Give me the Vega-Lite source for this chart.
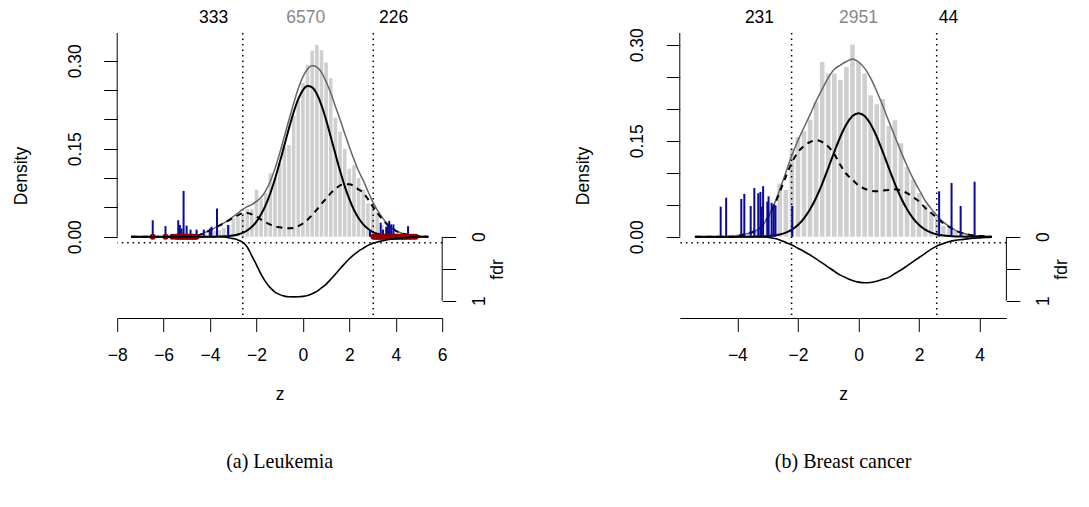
{
  "$schema": "https://vega.github.io/schema/vega-lite/v6.json",
  "padding": {"left": 11.2, "top": 9, "right": 0, "bottom": 0},
  "background": "white",
  "config": {
    "view": {"stroke": null},
    "font": "Liberation Sans",
    "axis": {"grid": false, "domainColor": "black", "tickColor": "black", "labelColor": "black", "titleColor": "black", "labelFontSize": 17.5, "titleFontSize": 17.5, "titleFontWeight": "normal", "tickSize": 13.5, "tickWidth": 1, "domainWidth": 1, "labelFont": "Liberation Sans", "titleFont": "Liberation Sans", "labelFlush": false, "labelOverlap": false}
  },
  "datasets": {
    "curvesL": [
      {"z":-7.4,"f0":0,"f1":0,"f":0,"fdr":0},{"z":-6.0,"f0":0,"f1":0,"f":0,"fdr":0},{"z":-5.0,"f0":0,"f1":0,"f":0,"fdr":0},{"z":-4.8,"f0":0,"f1":0,"f":0,"fdr":0},
      {"z":-4.6,"f0":0,"f1":0.0015,"f":0.0015,"fdr":0},{"z":-4.4,"f0":0,"f1":0.004,"f":0.004,"fdr":0},{"z":-4.2,"f0":0,"f1":0.0075,"f":0.0075,"fdr":0},{"z":-4.0,"f0":0,"f1":0.0107,"f":0.0107,"fdr":0},
      {"z":-3.8,"f0":0.0001,"f1":0.015,"f":0.0151,"fdr":0},{"z":-3.6,"f0":0.0003,"f1":0.019,"f":0.0193,"fdr":0},{"z":-3.4,"f0":0.0006,"f1":0.023,"f":0.0236,"fdr":0.005},{"z":-3.2,"f0":0.0011,"f1":0.0277,"f":0.0288,"fdr":0.015},
      {"z":-3.0,"f0":0.0021,"f1":0.0323,"f":0.0344,"fdr":0.03},{"z":-2.8,"f0":0.0037,"f1":0.0365,"f":0.0402,"fdr":0.05},{"z":-2.6,"f0":0.0064,"f1":0.04,"f":0.0464,"fdr":0.085},{"z":-2.4,"f0":0.0106,"f1":0.0405,"f":0.0511,"fdr":0.16},
      {"z":-2.2,"f0":0.0168,"f1":0.038,"f":0.0548,"fdr":0.3},{"z":-2.0,"f0":0.0258,"f1":0.0345,"f":0.0603,"fdr":0.44},{"z":-1.8,"f0":0.0381,"f1":0.029,"f":0.0671,"fdr":0.59},{"z":-1.6,"f0":0.0542,"f1":0.0245,"f":0.0787,"fdr":0.71},
      {"z":-1.4,"f0":0.0745,"f1":0.0205,"f":0.095,"fdr":0.8},{"z":-1.2,"f0":0.0988,"f1":0.0175,"f":0.1163,"fdr":0.865},{"z":-1.0,"f0":0.1263,"f1":0.016,"f":0.1423,"fdr":0.905},{"z":-0.8,"f0":0.1557,"f1":0.015,"f":0.1707,"fdr":0.928},
      {"z":-0.6,"f0":0.185,"f1":0.0143,"f":0.1993,"fdr":0.938},{"z":-0.4,"f0":0.2121,"f1":0.0148,"f":0.2269,"fdr":0.94},{"z":-0.2,"f0":0.2344,"f1":0.018,"f":0.2524,"fdr":0.938},{"z":0.0,"f0":0.2498,"f1":0.0225,"f":0.2723,"fdr":0.932},
      {"z":0.2,"f0":0.2567,"f1":0.029,"f":0.2857,"fdr":0.918},{"z":0.4,"f0":0.2544,"f1":0.037,"f":0.2914,"fdr":0.892},{"z":0.6,"f0":0.2431,"f1":0.046,"f":0.2891,"fdr":0.855},{"z":0.8,"f0":0.224,"f1":0.056,"f":0.28,"fdr":0.8},
      {"z":1.0,"f0":0.199,"f1":0.065,"f":0.264,"fdr":0.74},{"z":1.2,"f0":0.1705,"f1":0.0743,"f":0.2448,"fdr":0.665},{"z":1.4,"f0":0.1409,"f1":0.081,"f":0.2219,"fdr":0.585},{"z":1.6,"f0":0.1123,"f1":0.0873,"f":0.1996,"fdr":0.5},
      {"z":1.8,"f0":0.0862,"f1":0.0895,"f":0.1757,"fdr":0.42},{"z":2.0,"f0":0.0639,"f1":0.0893,"f":0.1532,"fdr":0.345},{"z":2.2,"f0":0.0456,"f1":0.086,"f":0.1316,"fdr":0.28},{"z":2.4,"f0":0.0314,"f1":0.0805,"f":0.1119,"fdr":0.225},
      {"z":2.6,"f0":0.0209,"f1":0.075,"f":0.0959,"fdr":0.18},{"z":2.8,"f0":0.0134,"f1":0.064,"f":0.0774,"fdr":0.135},{"z":3.0,"f0":0.0083,"f1":0.052,"f":0.0603,"fdr":0.105},{"z":3.2,"f0":0.0049,"f1":0.041,"f":0.0459,"fdr":0.082},
      {"z":3.4,"f0":0.0028,"f1":0.031,"f":0.0338,"fdr":0.066},{"z":3.6,"f0":0.0016,"f1":0.022,"f":0.0236,"fdr":0.052},{"z":3.8,"f0":0.0008,"f1":0.015,"f":0.0158,"fdr":0.04},{"z":4.0,"f0":0.0004,"f1":0.01,"f":0.0104,"fdr":0.03},
      {"z":4.2,"f0":0.0002,"f1":0.0065,"f":0.0067,"fdr":0.022},{"z":4.4,"f0":0.0001,"f1":0.004,"f":0.0041,"fdr":0.015},{"z":4.6,"f0":0,"f1":0.0027,"f":0.0027,"fdr":0.01},{"z":4.8,"f0":0,"f1":0.0016,"f":0.0016,"fdr":0.006},
      {"z":5.0,"f0":0,"f1":0.0008,"f":0.0008,"fdr":0.003},{"z":5.2,"f0":0,"f1":0.0003,"f":0.0003,"fdr":0.001},{"z":5.4,"f0":0,"f1":0,"f":0,"fdr":0}
    ],
    "barsL": [
      {"z":-4.4,"h":0.003},{"z":-4.2,"h":0.005},{"z":-4.0,"h":0.008},{"z":-3.8,"h":0.01},{"z":-3.6,"h":0.011},{"z":-3.4,"h":0.015},{"z":-3.2,"h":0.02},{"z":-3.0,"h":0.031},{"z":-2.8,"h":0.033},{"z":-2.6,"h":0.04},{"z":-2.4,"h":0.047},{"z":-2.2,"h":0.047},{"z":-2.0,"h":0.08},{"z":-1.8,"h":0.065},{"z":-1.6,"h":0.075},{"z":-1.4,"h":0.108},{"z":-1.2,"h":0.1},{"z":-1.0,"h":0.125},{"z":-0.8,"h":0.153},{"z":-0.6,"h":0.156},{"z":-0.4,"h":0.206},{"z":-0.2,"h":0.232},{"z":0.0,"h":0.262},{"z":0.2,"h":0.293},{"z":0.4,"h":0.317},{"z":0.6,"h":0.327},{"z":0.8,"h":0.318},{"z":1.0,"h":0.297},{"z":1.2,"h":0.27},{"z":1.4,"h":0.203},{"z":1.6,"h":0.179},{"z":1.8,"h":0.15},{"z":2.0,"h":0.116},{"z":2.2,"h":0.122},{"z":2.4,"h":0.1},{"z":2.6,"h":0.08},{"z":2.8,"h":0.057},{"z":3.0,"h":0.05},{"z":3.2,"h":0.042},{"z":3.4,"h":0.02},{"z":3.6,"h":0.013},{"z":3.8,"h":0.009},{"z":4.0,"h":0.006},{"z":4.2,"h":0.004},{"z":4.4,"h":0.003},{"z":4.6,"h":0.002},{"z":4.8,"h":0.001}
    ],
    "spikesL": [
      {"z":-6.47,"h":0.028},{"z":-5.92,"h":0.018},{"z":-5.37,"h":0.028},{"z":-5.3,"h":0.02},{"z":-5.23,"h":0.014},{"z":-5.14,"h":0.078},{"z":-5.01,"h":0.019},{"z":-4.84,"h":0.012},{"z":-4.58,"h":0.012},{"z":-4.27,"h":0.012},{"z":-4.01,"h":0.014},{"z":-3.94,"h":0.017},{"z":-3.7,"h":0.048},{"z":-3.22,"h":0.02},
      {"z":2.89,"h":0.011},{"z":3.35,"h":0.024},{"z":3.45,"h":0.012},{"z":3.59,"h":0.017},{"z":3.66,"h":0.022},{"z":3.72,"h":0.027},{"z":3.8,"h":0.021},{"z":3.9,"h":0.021},{"z":4.53,"h":0.018}
    ],
    "pointsL": [
      {"z":-6.47},{"z":-5.92},{"z":-5.62},{"z":-5.48},{"z":-5.42},{"z":-5.36},{"z":-5.3},{"z":-5.24},{"z":-5.18},{"z":-5.12},{"z":-5.06},{"z":-5.0},{"z":-4.94},{"z":-4.88},{"z":-4.82},{"z":-4.76},{"z":-4.7},{"z":-4.64},{"z":-4.58},
      {"z":3.04},{"z":3.1},{"z":3.16},{"z":3.22},{"z":3.28},{"z":3.34},{"z":3.4},{"z":3.46},{"z":3.52},{"z":3.58},{"z":3.64},{"z":3.7},{"z":3.76},{"z":3.82},{"z":3.88},{"z":3.94},{"z":4.0},{"z":4.06},{"z":4.12},{"z":4.18},{"z":4.24},{"z":4.3},{"z":4.36},{"z":4.42},{"z":4.5},{"z":4.58},{"z":4.66},{"z":4.76},{"z":4.86}
    ],
    "countsL": [{"z":-3.85,"label":"333","kind":"tail"},{"z":0.12,"label":"6570","kind":"mid"},{"z":3.91,"label":"226","kind":"tail"}],
    "thrL": [{"z":-2.59},{"z":3.03}],
    "curvesR": [
      {"z":-5.4,"f0":0,"f1":0,"f":0,"fdr":0},{"z":-4.6,"f0":0,"f1":0,"f":0,"fdr":0},{"z":-4.4,"f0":0,"f1":0,"f":0,"fdr":0},{"z":-4.2,"f0":0,"f1":0,"f":0,"fdr":0},
      {"z":-4.0,"f0":0,"f1":0.001,"f":0.001,"fdr":0},{"z":-3.8,"f0":0,"f1":0.003,"f":0.003,"fdr":0},{"z":-3.6,"f0":0.0001,"f1":0.0055,"f":0.0056,"fdr":0},{"z":-3.4,"f0":0.0002,"f1":0.009,"f":0.0092,"fdr":0},
      {"z":-3.2,"f0":0.0005,"f1":0.015,"f":0.0155,"fdr":0.003},{"z":-3.0,"f0":0.001,"f1":0.029,"f":0.03,"fdr":0.008},{"z":-2.8,"f0":0.0019,"f1":0.047,"f":0.0489,"fdr":0.025},{"z":-2.6,"f0":0.0036,"f1":0.07,"f":0.0736,"fdr":0.05},
      {"z":-2.4,"f0":0.0065,"f1":0.094,"f":0.1005,"fdr":0.09},{"z":-2.2,"f0":0.0112,"f1":0.116,"f":0.1272,"fdr":0.13},{"z":-2.0,"f0":0.0184,"f1":0.132,"f":0.1504,"fdr":0.18},{"z":-1.8,"f0":0.0287,"f1":0.142,"f":0.1707,"fdr":0.23},
      {"z":-1.6,"f0":0.0428,"f1":0.148,"f":0.1908,"fdr":0.285},{"z":-1.4,"f0":0.0609,"f1":0.151,"f":0.2119,"fdr":0.345},{"z":-1.2,"f0":0.0827,"f1":0.148,"f":0.2307,"fdr":0.41},{"z":-1.0,"f0":0.1072,"f1":0.141,"f":0.2482,"fdr":0.475},
      {"z":-0.8,"f0":0.1325,"f1":0.129,"f":0.2615,"fdr":0.54},{"z":-0.6,"f0":0.1562,"f1":0.112,"f":0.2682,"fdr":0.6},{"z":-0.4,"f0":0.1757,"f1":0.098,"f":0.2737,"fdr":0.645},{"z":-0.2,"f0":0.1885,"f1":0.089,"f":0.2775,"fdr":0.685},
      {"z":0.0,"f0":0.193,"f1":0.08,"f":0.273,"fdr":0.71},{"z":0.2,"f0":0.1885,"f1":0.075,"f":0.2635,"fdr":0.72},{"z":0.4,"f0":0.1757,"f1":0.072,"f":0.2477,"fdr":0.715},{"z":0.6,"f0":0.1562,"f1":0.071,"f":0.2272,"fdr":0.695},
      {"z":0.8,"f0":0.1325,"f1":0.072,"f":0.2045,"fdr":0.665},{"z":1.0,"f0":0.1072,"f1":0.073,"f":0.1802,"fdr":0.635},{"z":1.2,"f0":0.0827,"f1":0.074,"f":0.1567,"fdr":0.575},{"z":1.4,"f0":0.0609,"f1":0.072,"f":0.1329,"fdr":0.52},
      {"z":1.6,"f0":0.0428,"f1":0.068,"f":0.1108,"fdr":0.455},{"z":1.8,"f0":0.0287,"f1":0.062,"f":0.0907,"fdr":0.39},{"z":2.0,"f0":0.0184,"f1":0.055,"f":0.0734,"fdr":0.325},{"z":2.2,"f0":0.0112,"f1":0.045,"f":0.0562,"fdr":0.26},
      {"z":2.4,"f0":0.0065,"f1":0.037,"f":0.0435,"fdr":0.195},{"z":2.6,"f0":0.0036,"f1":0.029,"f":0.0326,"fdr":0.14},{"z":2.8,"f0":0.0019,"f1":0.021,"f":0.0229,"fdr":0.105},{"z":3.0,"f0":0.001,"f1":0.015,"f":0.016,"fdr":0.075},
      {"z":3.2,"f0":0.0005,"f1":0.0095,"f":0.01,"fdr":0.057},{"z":3.4,"f0":0.0002,"f1":0.006,"f":0.0062,"fdr":0.045},{"z":3.6,"f0":0.0001,"f1":0.0035,"f":0.0036,"fdr":0.034},{"z":3.8,"f0":0,"f1":0.002,"f":0.002,"fdr":0.025},
      {"z":4.0,"f0":0,"f1":0.001,"f":0.001,"fdr":0.019},{"z":4.2,"f0":0,"f1":0.0005,"f":0.0005,"fdr":0.013},{"z":4.4,"f0":0,"f1":0,"f":0,"fdr":0.009}
    ],
    "barsR": [
      {"z":-4.4,"h":0.002},{"z":-4.2,"h":0.003},{"z":-4.0,"h":0.004},{"z":-3.8,"h":0.006},{"z":-3.6,"h":0.008},{"z":-3.4,"h":0.012},{"z":-3.2,"h":0.02},{"z":-3.0,"h":0.03},{"z":-2.8,"h":0.05},{"z":-2.6,"h":0.083},{"z":-2.4,"h":0.073},{"z":-2.2,"h":0.137},{"z":-2.0,"h":0.156},{"z":-1.8,"h":0.165},{"z":-1.6,"h":0.183},{"z":-1.4,"h":0.211},{"z":-1.2,"h":0.273},{"z":-1.0,"h":0.255},{"z":-0.8,"h":0.255},{"z":-0.6,"h":0.245},{"z":-0.4,"h":0.265},{"z":-0.2,"h":0.3},{"z":0.0,"h":0.273},{"z":0.2,"h":0.255},{"z":0.4,"h":0.221},{"z":0.6,"h":0.207},{"z":0.8,"h":0.215},{"z":1.0,"h":0.173},{"z":1.2,"h":0.182},{"z":1.4,"h":0.146},{"z":1.6,"h":0.109},{"z":1.8,"h":0.089},{"z":2.0,"h":0.068},{"z":2.2,"h":0.049},{"z":2.4,"h":0.039},{"z":2.6,"h":0.031},{"z":2.8,"h":0.017},{"z":3.0,"h":0.013},{"z":3.2,"h":0.01},{"z":3.4,"h":0.007},{"z":3.6,"h":0.004},{"z":3.8,"h":0.002}
    ],
    "spikesR": [
      {"z":-4.55,"h":0.047},{"z":-4.37,"h":0.061},{"z":-3.87,"h":0.059},{"z":-3.77,"h":0.067},{"z":-3.56,"h":0.048},{"z":-3.44,"h":0.076},{"z":-3.31,"h":0.068},{"z":-3.24,"h":0.07},{"z":-3.2,"h":0.047},{"z":-3.15,"h":0.079},{"z":-3.01,"h":0.055},{"z":-2.97,"h":0.063},{"z":-2.87,"h":0.053},{"z":-2.8,"h":0.051},{"z":-2.74,"h":0.049},{"z":-2.19,"h":0.048},
      {"z":2.66,"h":0.071},{"z":3.07,"h":0.084},{"z":3.37,"h":0.048},{"z":3.83,"h":0.086}
    ],
    "countsR": [{"z":-3.27,"label":"231","kind":"tail"},{"z":0,"label":"2951","kind":"mid"},{"z":2.97,"label":"44","kind":"tail"}],
    "thrR": [{"z":-2.21},{"z":2.58}]
  },
  "bounds": "flush",
  "spacing": 237.6,
  "hconcat": [
    {
      "width": 325,
      "height": 285,
      "title": {"text": "(a) Leukemia", "orient": "bottom", "anchor": "middle", "font": "Liberation Serif", "fontSize": 20, "fontWeight": "normal", "color": "black", "offset": 49},
      "layer": [
        {
          "layer": [
            {
              "data": {"name": "barsL"},
              "mark": {"type": "bar", "size": 3.6, "color": "#cfcfcf"},
              "encoding": {
                "x": {"field": "z", "type": "quantitative", "scale": {"domain": [-8, 6], "nice": false, "zero": false, "padding": 0}, "axis": {"values": [-8, -6, -4, -2, 0, 2, 4, 6], "format": "d", "title": "z", "labelPadding": 15, "titlePadding": 22}},
                "y": {"field": "h", "type": "quantitative", "scale": {"domain": [-0.1386, 0.3472], "nice": false, "zero": false}, "axis": {"orient": "left", "values": [0, 0.05, 0.1, 0.15, 0.2, 0.25, 0.3], "format": ".2f", "labelExpr": "datum.value === 0 || datum.value === 0.15 || datum.value === 0.3 ? datum.label : ''", "labelAngle": -90, "labelAlign": "center", "labelBaseline": "alphabetic", "labelPadding": 23.5, "domain": false, "title": "Density", "titlePadding": 36}},
                "y2": {"datum": 0}
              }
            },
            {
              "data": {"name": "thrL"},
              "mark": {"type": "rule", "color": "black", "strokeWidth": 1.5, "strokeDash": [1.5, 4]},
              "encoding": {"x": {"field": "z", "type": "quantitative", "scale": {"domain": [-8, 6], "nice": false, "zero": false, "padding": 0}}}
            },
            {
              "data": {"values": [{}]},
              "mark": {"type": "rule", "color": "black", "strokeWidth": 1.5, "strokeDash": [1.5, 4]},
              "encoding": {"y": {"datum": -0.0102, "type": "quantitative", "scale": {"domain": [-0.1386, 0.3472], "nice": false, "zero": false}}}
            },
            {
              "data": {"name": "curvesL"},
              "mark": {"type": "line", "color": "#666666", "strokeWidth": 1.5, "interpolate": "monotone"},
              "encoding": {
                "x": {"field": "z", "type": "quantitative", "scale": {"domain": [-8, 6], "nice": false, "zero": false, "padding": 0}},
                "y": {"field": "f", "type": "quantitative", "scale": {"domain": [-0.1386, 0.3472], "nice": false, "zero": false}}
              }
            },
            {
              "data": {"name": "curvesL"},
              "mark": {"type": "line", "color": "black", "strokeWidth": 2, "interpolate": "monotone"},
              "encoding": {
                "x": {"field": "z", "type": "quantitative", "scale": {"domain": [-8, 6], "nice": false, "zero": false, "padding": 0}},
                "y": {"field": "f0", "type": "quantitative", "scale": {"domain": [-0.1386, 0.3472], "nice": false, "zero": false}}
              }
            },
            {
              "data": {"name": "curvesL"},
              "mark": {"type": "line", "color": "black", "strokeWidth": 2, "strokeDash": [6, 5], "interpolate": "monotone"},
              "encoding": {
                "x": {"field": "z", "type": "quantitative", "scale": {"domain": [-8, 6], "nice": false, "zero": false, "padding": 0}},
                "y": {"field": "f1", "type": "quantitative", "scale": {"domain": [-0.1386, 0.3472], "nice": false, "zero": false}}
              }
            },
            {
              "data": {"name": "spikesL"},
              "mark": {"type": "rule", "color": "#0a0a96", "strokeWidth": 2},
              "encoding": {
                "x": {"field": "z", "type": "quantitative", "scale": {"domain": [-8, 6], "nice": false, "zero": false, "padding": 0}},
                "y": {"field": "h", "type": "quantitative", "scale": {"domain": [-0.1386, 0.3472], "nice": false, "zero": false}},
                "y2": {"datum": 0}
              }
            },
            {
              "data": {"name": "pointsL"},
              "mark": {"type": "circle", "color": "#8B0000", "opacity": 1, "size": 36},
              "encoding": {
                "x": {"field": "z", "type": "quantitative", "scale": {"domain": [-8, 6], "nice": false, "zero": false, "padding": 0}},
                "y": {"datum": 0, "type": "quantitative", "scale": {"domain": [-0.1386, 0.3472], "nice": false, "zero": false}}
              }
            },
            {
              "data": {"name": "countsL"},
              "mark": {"type": "text", "fontSize": 17.5, "baseline": "middle", "align": "center", "font": "Liberation Sans"},
              "encoding": {
                "x": {"field": "z", "type": "quantitative", "scale": {"domain": [-8, 6], "nice": false, "zero": false, "padding": 0}},
                "y": {"datum": 0.3727, "type": "quantitative", "scale": {"domain": [-0.1386, 0.3472], "nice": false, "zero": false}},
                "text": {"field": "label", "type": "nominal"},
                "color": {"field": "kind", "type": "nominal", "scale": {"domain": ["tail", "mid"], "range": ["black", "#888888"]}, "legend": null}
              }
            },
            {
              "data": {"values": [{}]},
              "mark": {"type": "rule", "color": "black", "strokeWidth": 1},
              "encoding": {
                "x": {"datum": -8, "type": "quantitative", "scale": {"domain": [-8, 6], "nice": false, "zero": false, "padding": 0}},
                "y": {"datum": 0, "type": "quantitative", "scale": {"domain": [-0.1386, 0.3472], "nice": false, "zero": false}},
                "y2": {"datum": 0.3472}
              }
            }
          ]
        },
        {
          "layer": [
            {
              "data": {"name": "curvesL"},
              "mark": {"type": "line", "color": "black", "strokeWidth": 1.6, "interpolate": "monotone"},
              "encoding": {
                "x": {"field": "z", "type": "quantitative", "scale": {"domain": [-8, 6], "nice": false, "zero": false, "padding": 0}},
                "y": {"field": "fdr", "type": "quantitative", "scale": {"domain": [-3.183, 1.27], "reverse": true, "nice": false, "zero": false}, "axis": {"orient": "right", "values": [0, 0.5, 1], "format": "~g", "labelExpr": "datum.value == 0.5 ? '' : datum.label", "labelAngle": -90, "labelAlign": "center", "labelBaseline": "top", "labelPadding": 15, "domain": false, "title": "fdr", "titleAngle": 270, "titleBaseline": "top", "titleAlign": "center", "titleX": 46, "titleY": 236}}
              }
            },
            {
              "data": {"values": [{}]},
              "mark": {"type": "rule", "color": "black", "strokeWidth": 1},
              "encoding": {
                "x": {"datum": 6, "type": "quantitative", "scale": {"domain": [-8, 6], "nice": false, "zero": false, "padding": 0}},
                "y": {"datum": 0, "type": "quantitative", "scale": {"domain": [-3.183, 1.27], "reverse": true, "nice": false, "zero": false}},
                "y2": {"datum": 1}
              }
            }
          ]
        }
      ],
      "resolve": {"scale": {"y": "independent"}, "axis": {"y": "independent"}}
    },
    {
      "width": 326.6,
      "height": 285,
      "title": {"text": "(b) Breast cancer", "orient": "bottom", "anchor": "middle", "font": "Liberation Serif", "fontSize": 20, "fontWeight": "normal", "color": "black", "offset": 49},
      "layer": [
        {
          "layer": [
            {
              "data": {"name": "barsR"},
              "mark": {"type": "bar", "size": 4.6, "color": "#cfcfcf"},
              "encoding": {
                "x": {"field": "z", "type": "quantitative", "scale": {"domain": [-5.9, 4.88], "nice": false, "zero": false, "padding": 0}, "axis": {"values": [-4, -2, 0, 2, 4], "format": "d", "title": "z", "labelPadding": 15, "titlePadding": 22}},
                "y": {"field": "h", "type": "quantitative", "scale": {"domain": [-0.127, 0.3183], "nice": false, "zero": false}, "axis": {"orient": "left", "values": [0, 0.05, 0.1, 0.15, 0.2, 0.25, 0.3], "format": ".2f", "labelExpr": "datum.value === 0 || datum.value === 0.15 || datum.value === 0.3 ? datum.label : ''", "labelAngle": -90, "labelAlign": "center", "labelBaseline": "alphabetic", "labelPadding": 23.5, "domain": false, "title": "Density", "titlePadding": 36}},
                "y2": {"datum": 0}
              }
            },
            {
              "data": {"name": "thrR"},
              "mark": {"type": "rule", "color": "black", "strokeWidth": 1.5, "strokeDash": [1.5, 4]},
              "encoding": {"x": {"field": "z", "type": "quantitative", "scale": {"domain": [-5.9, 4.88], "nice": false, "zero": false, "padding": 0}}}
            },
            {
              "data": {"values": [{}]},
              "mark": {"type": "rule", "color": "black", "strokeWidth": 1.5, "strokeDash": [1.5, 4]},
              "encoding": {"y": {"datum": -0.0094, "type": "quantitative", "scale": {"domain": [-0.127, 0.3183], "nice": false, "zero": false}}}
            },
            {
              "data": {"name": "curvesR"},
              "mark": {"type": "line", "color": "#666666", "strokeWidth": 1.5, "interpolate": "monotone"},
              "encoding": {
                "x": {"field": "z", "type": "quantitative", "scale": {"domain": [-5.9, 4.88], "nice": false, "zero": false, "padding": 0}},
                "y": {"field": "f", "type": "quantitative", "scale": {"domain": [-0.127, 0.3183], "nice": false, "zero": false}}
              }
            },
            {
              "data": {"name": "curvesR"},
              "mark": {"type": "line", "color": "black", "strokeWidth": 2, "interpolate": "monotone"},
              "encoding": {
                "x": {"field": "z", "type": "quantitative", "scale": {"domain": [-5.9, 4.88], "nice": false, "zero": false, "padding": 0}},
                "y": {"field": "f0", "type": "quantitative", "scale": {"domain": [-0.127, 0.3183], "nice": false, "zero": false}}
              }
            },
            {
              "data": {"name": "curvesR"},
              "mark": {"type": "line", "color": "black", "strokeWidth": 2, "strokeDash": [6, 5], "interpolate": "monotone"},
              "encoding": {
                "x": {"field": "z", "type": "quantitative", "scale": {"domain": [-5.9, 4.88], "nice": false, "zero": false, "padding": 0}},
                "y": {"field": "f1", "type": "quantitative", "scale": {"domain": [-0.127, 0.3183], "nice": false, "zero": false}}
              }
            },
            {
              "data": {"name": "spikesR"},
              "mark": {"type": "rule", "color": "#0a0a96", "strokeWidth": 2},
              "encoding": {
                "x": {"field": "z", "type": "quantitative", "scale": {"domain": [-5.9, 4.88], "nice": false, "zero": false, "padding": 0}},
                "y": {"field": "h", "type": "quantitative", "scale": {"domain": [-0.127, 0.3183], "nice": false, "zero": false}},
                "y2": {"datum": 0}
              }
            },
            {
              "data": {"name": "countsR"},
              "mark": {"type": "text", "fontSize": 17.5, "baseline": "middle", "align": "center", "font": "Liberation Sans"},
              "encoding": {
                "x": {"field": "z", "type": "quantitative", "scale": {"domain": [-5.9, 4.88], "nice": false, "zero": false, "padding": 0}},
                "y": {"datum": 0.3417, "type": "quantitative", "scale": {"domain": [-0.127, 0.3183], "nice": false, "zero": false}},
                "text": {"field": "label", "type": "nominal"},
                "color": {"field": "kind", "type": "nominal", "scale": {"domain": ["tail", "mid"], "range": ["black", "#888888"]}, "legend": null}
              }
            },
            {
              "data": {"values": [{}]},
              "mark": {"type": "rule", "color": "black", "strokeWidth": 1},
              "encoding": {
                "x": {"datum": -5.9, "type": "quantitative", "scale": {"domain": [-5.9, 4.88], "nice": false, "zero": false, "padding": 0}},
                "y": {"datum": 0, "type": "quantitative", "scale": {"domain": [-0.127, 0.3183], "nice": false, "zero": false}},
                "y2": {"datum": 0.3183}
              }
            }
          ]
        },
        {
          "layer": [
            {
              "data": {"name": "curvesR"},
              "mark": {"type": "line", "color": "black", "strokeWidth": 1.6, "interpolate": "monotone"},
              "encoding": {
                "x": {"field": "z", "type": "quantitative", "scale": {"domain": [-5.9, 4.88], "nice": false, "zero": false, "padding": 0}},
                "y": {"field": "fdr", "type": "quantitative", "scale": {"domain": [-3.183, 1.27], "reverse": true, "nice": false, "zero": false}, "axis": {"orient": "right", "values": [0, 0.5, 1], "format": "~g", "labelExpr": "datum.value == 0.5 ? '' : datum.label", "labelAngle": -90, "labelAlign": "center", "labelBaseline": "top", "labelPadding": 15, "domain": false, "title": "fdr", "titleAngle": 270, "titleBaseline": "top", "titleAlign": "center", "titleX": 46, "titleY": 236}}
              }
            },
            {
              "data": {"values": [{}]},
              "mark": {"type": "rule", "color": "black", "strokeWidth": 1},
              "encoding": {
                "x": {"datum": 4.88, "type": "quantitative", "scale": {"domain": [-5.9, 4.88], "nice": false, "zero": false, "padding": 0}},
                "y": {"datum": 0, "type": "quantitative", "scale": {"domain": [-3.183, 1.27], "reverse": true, "nice": false, "zero": false}},
                "y2": {"datum": 1}
              }
            }
          ]
        }
      ],
      "resolve": {"scale": {"y": "independent"}, "axis": {"y": "independent"}}
    }
  ]
}
